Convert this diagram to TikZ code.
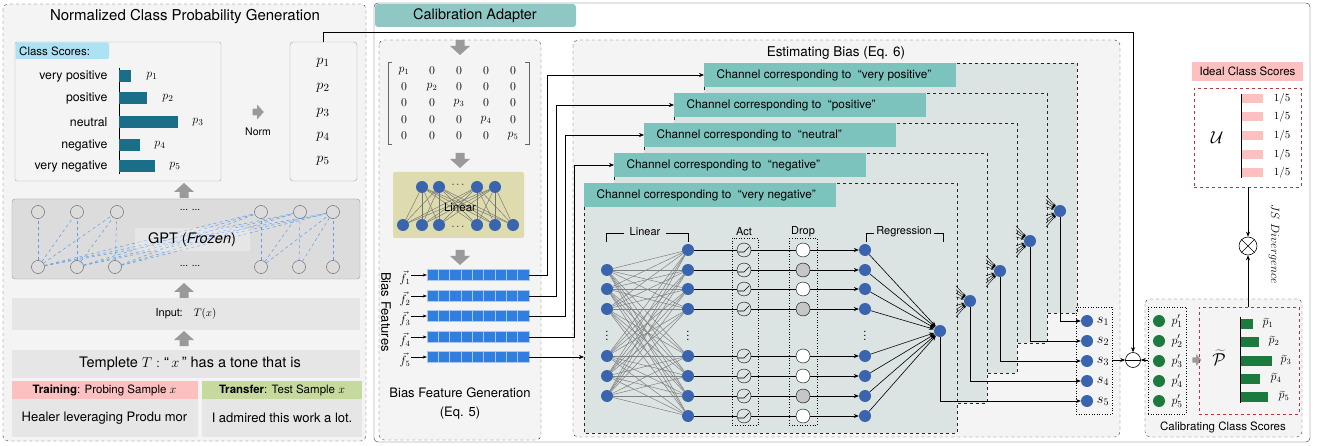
\documentclass[tikz,border=0pt]{standalone}
\usepackage{fontspec}
\setmainfont{TeX Gyre Heros}
\usetikzlibrary{arrows.meta,calc}
\definecolor{panelgray}{HTML}{F4F4F4}
\definecolor{boxgray}{HTML}{E6E6E6}
\definecolor{gptgray}{HTML}{DCDCDC}
\definecolor{arrgray}{HTML}{9A9A9A}
\definecolor{tealbar}{HTML}{1B6E88}
\definecolor{hdrblue}{HTML}{ADE2F3}
\definecolor{cateal}{HTML}{8EC7C3}
\definecolor{chhead}{HTML}{7CC3BD}
\definecolor{chfill}{HTML}{DCE4E3}
\definecolor{nblue}{HTML}{3B64AE}
\definecolor{cellblue}{HTML}{2F7EE0}
\definecolor{cellline}{HTML}{A8C8F0}
\definecolor{dgreen}{HTML}{1C7A3E}
\definecolor{pinkhd}{HTML}{FDC0C0}
\definecolor{reddash}{HTML}{C8303C}
\definecolor{greenhd}{HTML}{C6DA9E}
\definecolor{linbox}{HTML}{DEDCAE}
\definecolor{gptblue}{HTML}{5B9BF0}
\begin{document}
\begin{tikzpicture}[x=1pt,y=-1pt,
  font=\fontsize{11}{13}\selectfont,
  >={Stealth[length=5pt,width=4pt]},
  panel/.style={draw=black!75, dashed, rounded corners=5pt, fill=panelgray},
  bnode/.style={circle, fill=nblue, minimum size=12pt, inner sep=0pt},
  gnode/.style={circle, fill=dgreen, minimum size=12pt, inner sep=0pt},
  gptc/.style={circle, draw=black!65, fill=gptgray, minimum size=13pt, inner sep=0pt},
  gptl/.style={gptblue, dashed, line width=0.5pt},
  actc/.style={circle, draw=black, fill=chfill, minimum size=14pt, inner sep=0pt},
  dropc/.style={circle, draw=black, minimum size=14pt, inner sep=0pt},
  smallarr/.style={->, >={Stealth[length=3pt,width=2.5pt]}, line width=0.4pt},
  pics/garr/.style={code={\fill[arrgray] (-6,-4.5) -- (0,-4.5) -- (0,-10) -- (9,0) -- (0,10) -- (0,4.5) -- (-6,4.5) -- cycle;}},
]
\path[use as bounding box] (0,0) rectangle (1317,446);

% ================= LEFT PANEL =================
\draw[panel] (3,4) rectangle (366,441);
\node (ttl1) at (185,17) {\fontsize{15}{17}\selectfont Normalized Class Probability Generation};

\node (csbox) [draw=black!35, fill=panelgray, rounded corners=2pt, minimum width=206pt, minimum height=139pt, inner sep=0pt] at (118,111.5) {};
\fill[hdrblue, rounded corners=2pt] (15.5,42.5) rectangle (109,59);
\node[anchor=west, inner sep=1pt] (cshdr) at (18,51) {\fontsize{11.5}{13}\selectfont Class Scores:};
\draw[line width=1pt] (119,68) -- (119,174);
\foreach \lab/\y/\w/\px [count=\i] in {very positive/76/12/152, positive/98/28/168, neutral/122/59/198, negative/145/21/160, very negative/166/36/175}{
  \node[anchor=east, font=\fontsize{12.3}{14}\selectfont] (cl\i) at (111,\y) {\lab};
  \fill[tealbar] (119,\y-6) rectangle ++(\w,12);
  \node[font=\fontsize{13}{15}\selectfont] (cp\i) at (\px,\y) {$p_{\i}$};
}
\pic[scale=0.75] at (257,112) {garr};
\node (norm) at (258,132) {\fontsize{10.5}{12}\selectfont Norm};

\node (pbox) [draw=black!35, fill=panelgray, rounded corners=3pt, minimum width=67pt, minimum height=139pt, inner sep=0pt] at (323.5,111.5) {};
\foreach \y [count=\i] in {63,88,113,137,161}
  \node[font=\fontsize{15.5}{17}\selectfont] (pv\i) at (323,\y) {$p_{\i}$};

\pic[rotate=90] at (184,192) {garr};

% GPT
\node (gpt) [draw=black!40, fill=gptgray, rounded corners=3pt, minimum width=348pt, minimum height=80pt, inner sep=0pt] at (186,239) {};
\foreach \x [count=\i] in {38,77,117,261,300,333} \node[gptc] (t\i) at (\x,212) {};
\foreach \x [count=\i] in {38,77,115,261,299,333} \node[gptc] (b\i) at (\x,267) {};
\foreach \a/\b in {1/1,2/2,3/3,1/2,1/3,2/3,1/4,1/5,1/6,2/4,2/5,2/6,3/4,3/5,3/6,4/4,5/5,6/6,4/5,4/6,5/6}
  \draw[gptl] (b\a) -- (t\b);
\node (gptlbl) [fill=white, fill opacity=0.3, text opacity=1, minimum width=115pt, minimum height=23pt] at (192,240) {\fontsize{14.5}{16}\selectfont GPT (\textit{Frozen})};
\node (dt1) at (190,210) {\fontsize{10}{11}\selectfont ... ...};
\node (dt2) at (190,266) {\fontsize{10}{11}\selectfont ... ...};

\pic[rotate=90] at (184,292) {garr};
\node (inp) [fill=boxgray, minimum width=348pt, minimum height=32pt, inner sep=0pt] at (186,314) {Input:\quad $T(x)$};
\pic[rotate=90] at (184,340) {garr};
\node (tmpl) [fill=boxgray, minimum width=348pt, minimum height=28pt, inner sep=0pt] at (186,364) {\fontsize{14.5}{16}\selectfont\ \ Templete $T:$ ``\,$x$\,'' has a tone that is};
\node (trh) [fill=pinkhd, minimum width=186pt, minimum height=18pt, inner sep=0pt] at (104.5,390) {\fontsize{11.5}{13}\selectfont\textbf{Training}: Probing Sample $x$};
\node (tfh) [fill=greenhd, minimum width=160pt, minimum height=18pt, inner sep=0pt] at (282,390) {\fontsize{11.5}{13}\selectfont\textbf{Transfer}: Test Sample $x$};
\node (trt) [fill=boxgray, minimum width=186pt, minimum height=38pt, inner sep=0pt] at (104.5,418) {\fontsize{13}{15}\selectfont Healer leveraging Produ mor};
\node (tft) [fill=boxgray, minimum width=160pt, minimum height=38pt, inner sep=0pt] at (282,418) {\fontsize{13}{15}\selectfont I admired this work a lot.};

% ================= CALIBRATION ADAPTER =================
\draw[black!80, rounded corners=4pt] (374,3) rectangle (1310,442);
\fill[cateal, rounded corners=3pt] (375,4) rectangle (576,27);
\node (catitle) at (475,16) {\fontsize{14.5}{16}\selectfont Calibration Adapter};

% Bias feature generation
\draw[panel] (379,40) rectangle (541,440);
\pic[rotate=-90] at (460,46) {garr};
\foreach \r [count=\i] in {71,87,103,120,136}
  \foreach \c [count=\j] in {404,432,459,486,513}{
    \ifnum\i=\j \node[font=\fontsize{12}{14}\selectfont, inner sep=0pt] (m\i-\j) at (\c,\r) {$p_{\i}$};
    \else \node[font=\fontsize{12}{14}\selectfont, inner sep=0pt] (m\i-\j) at (\c,\r) {$0$};\fi
  }
\draw[black!60, line width=0.8pt] (392,62) -- (388,62) -- (388,144) -- (392,144);
\draw[black!60, line width=0.8pt] (525,62) -- (529,62) -- (529,144) -- (525,144);
\pic[rotate=-90] at (460,159) {garr};
\node (linbox) [fill=linbox, rounded corners=2pt, minimum width=131pt, minimum height=66pt, inner sep=0pt] at (458.5,205) {};
\foreach \x [count=\i] in {422,439,477,495} \node[bnode] (tn\i) at (\x,187) {};
\foreach \x [count=\i] in {403,422,439,477,495,513} \node[bnode] (bn\i) at (\x,225) {};
\foreach \i in {1,...,4} \foreach \j in {1,...,6} \draw[black!55, line width=0.45pt] (tn\i) -- (bn\j);
\node (lindots1) at (458,185) {$\cdots$};
\node (lindots2) at (458,227) {$\cdots$};
\node (linlbl) at (460,207) {\fontsize{11.5}{13}\selectfont Linear};
\pic[rotate=-90] at (460,256) {garr};

\foreach \y [count=\i] in {275,296,316,337,357}{
  \node (bar\i) [minimum width=102pt, minimum height=11pt, inner sep=0pt] at (478,\y) {};
  \foreach \c in {0,...,8} \fill[cellblue, draw=cellline, line width=0.5pt] ({427+\c*11.33},\y-5.5) rectangle ++(11.33,11);
  \node[font=\fontsize{12}{14}\selectfont, inner sep=1pt] (f\i) at (405,\y+3) {$\vec{f}_{\i}$};
  \draw[->, >={Stealth[length=4pt,width=3pt]}] (f\i.east |- bar\i.west) -- (bar\i.west);
}
\node[rotate=-90, font=\fontsize{13}{15}\selectfont] (bfl) at (386,312) {Bias Features};
\node (bfg1) at (460,393) {\fontsize{13}{15}\selectfont Bias Feature Generation};
\node (bfg2) at (460,413) {\fontsize{13}{15}\selectfont (Eq. 5)};

% Estimating bias
\draw[panel] (573,40) rectangle (1120,437);
\node (ebt) at (836,53) {\fontsize{13.5}{15}\selectfont Estimating Bias (Eq. 6)};

\foreach \k/\lab in {1/very positive, 2/positive, 3/neutral, 4/negative, 5/very negative}{
  \pgfmathsetmacro\L{584+30*(5-\k)}
  \pgfmathsetmacro\T{183-30*(5-\k)}
  \pgfmathsetmacro\R{957+30*(5-\k)}
  \pgfmathsetmacro\B{433-30*(5-\k)}
  \draw[dashed, draw=black!85, fill=chfill] (\L,\T) rectangle (\R,\B);
  \fill[chhead] (\L,\T) rectangle ++(252,24);
  \node[anchor=west, font=\fontsize{11.8}{13}\selectfont] (chl\k) at (\L+9,\T+12) {Channel corresponding to \ ``\lab''};
  \coordinate (chin\k) at (\L,\T+12);
}

% bar -> channel connectors
\foreach \k in {1,...,4}
  \draw[->, line width=0.6pt] (bar\k.east) -- ++({18+9*(\k-1)},0) |- (chin\k);
\coordinate (chin5b) at (584,357);
\draw[->, line width=0.6pt] (bar5.east) -- (chin5b);

% front channel network
\draw (606,242) -- (606,233) -- (624,233);
\node (linl) at (645,232) {Linear};
\draw (666,233) -- (688,233) -- (688,242);
\node (actl) at (744,232) {Act};
\node (dropl) at (803,232) {Drop};
\draw (866,242) -- (866,233) -- (874,233);
\node (regl) at (904,232) {Regression};
\draw (934,233) -- (943,233) -- (943,242);
\draw[dotted, line width=0.6pt] (732,238) rectangle (758,425);
\draw[dotted, line width=0.6pt] (789,238) rectangle (817,425);

\node[bnode] (out5) at (940,331) {};
\foreach \y [count=\i] in {270,289,309,356,376,396} \node[bnode] (in\i) at (607,\y) {};
\foreach \y/\df [count=\j] in {250/white,270/gray!45,289/white,309/gray!45,356/white,376/white,396/gray!45,416/white}{
  \node[bnode] (hd\j) at (688,\y) {};
  \node[actc] (act\j) at (744,\y) {};
  \node[dropc, fill=\df] (drp\j) at (803,\y) {};
  \node[bnode] (rg\j) at (865,\y) {};
}
\foreach \i in {1,...,6} \foreach \j in {1,...,8} \draw[black!50, line width=0.5pt] (in\i) -- (hd\j);
\foreach \j in {1,...,8}{
  \draw[line width=0.6pt] (hd\j) -- (act\j);
  \draw[line width=0.6pt] (act\j) -- (drp\j);
  \draw[->, line width=0.6pt] (drp\j) -- (rg\j);
  \draw[->, line width=0.6pt] (rg\j) -- (out5);
  \draw[line width=0.6pt] ([shift={(-6,2)}]act\j.center) -- ++(6,0) -- ++(5,-5);
}
\node (vd1) at (607,333) {$\vdots$};
\node (vd2) at (688,333) {$\vdots$};
\node (vd3) at (865,333) {$\vdots$};

% other channel outputs
\foreach \k in {1,...,4}{
  \pgfmathsetmacro\m{5-\k}
  \node[bnode] (out\k) at ({940+30*\m},{331-30*\m}) {};
  \foreach \ry [count=\q] in {250,270,289,309,356,376,396,416}{
    \coordinate (fan\k-\q) at ({940+30*\m-14},{331-30*\m+(\ry-331)*14/75});
    \draw[smallarr] (fan\k-\q) -- (out\k);
  }
}

% s nodes
\node (sbox) [draw, dotted, line width=0.6pt, minimum width=36pt, minimum height=107pt, inner sep=0pt] at (1094,360.5) {};
\foreach \k in {1,...,5}{
  \node[bnode] (s\k) at (1087,{321+20*(\k-1)}) {};
  \node[font=\fontsize{14}{16}\selectfont, inner sep=0pt] (sl\k) at (1103,{321+20*(\k-1)}) {$s_{\k}$};
  \draw[->, line width=0.6pt] (out\k) |- (s\k);
}

% minus circle
\node (mn) [circle, draw, line width=0.6pt, minimum size=15pt, inner sep=0pt] at (1133,360) {};
\draw[line width=0.6pt] (mn.west) -- (mn.east);
\draw[->, line width=0.6pt] (pbox.north) -- ++(0,-9) -| (mn.north);
\draw[->, line width=0.6pt] (sbox.east |- mn.west) -- (mn.west);

% calibrating class scores
\draw[panel] (1145,299) rectangle (1302,437);
\node (ccs) at (1223,427) {\fontsize{11.5}{13}\selectfont Calibrating Class Scores};
\node (ppbox) [draw, dotted, line width=0.6pt, minimum width=38pt, minimum height=107pt, inner sep=0pt] at (1167,360.5) {};
\foreach \k in {1,...,5}{
  \node[gnode] (pp\k) at (1159,{321+20*(\k-1)}) {};
  \node[font=\fontsize{13}{15}\selectfont, inner sep=0pt] (ppl\k) at (1177,{321+20*(\k-1)}) {$p'_{\k}$};
}
\draw[->, line width=0.6pt] (ppbox.west |- mn.east) -- (mn.east);
\pic[scale=0.6] at (1196,360) {garr};

\node (pbt) [draw=reddash, dashed, line width=0.8pt, minimum width=100pt, minimum height=107pt, inner sep=0pt] at (1249,360.5) {};
\node[inner sep=0pt] (ptl) at (1219,358) {\fontsize{19}{21}\selectfont $\widetilde{\mathcal{P}}$};
\foreach \y/\w/\lx [count=\i] in {324/13/1268, 342/19/1274, 361/32/1286, 379/20/1276, 397/28/1284}{
  \fill[dgreen] (1240,\y-5) rectangle ++(\w,10);
  \node[font=\fontsize{12}{13}\selectfont, inner sep=0pt] (ptd\i) at (\lx,\y-1) {$\widetilde{p}_{\i}$};
}
\draw[line width=1pt] (1240,317) -- (1240,403);

% ideal class scores
\node (idh) [fill=pinkhd, minimum width=111pt, minimum height=19pt, inner sep=0pt] at (1247.5,71.5) {\fontsize{11.5}{13}\selectfont Ideal Class Scores};
\node (ubox) [draw=reddash, dashed, line width=0.8pt, minimum width=107pt, minimum height=99pt, inner sep=0pt] at (1247.5,137.5) {};
\node (ul) at (1217,138) {\fontsize{19}{21}\selectfont $\mathcal{U}$};
\foreach \y [count=\i] in {99,117,136,155,173}{
  \fill[pinkhd] (1241,\y-4.5) rectangle ++(22,9);
  \node[inner sep=0pt] (uf\i) at (1282,\y) {$1/5$};
}
\draw[line width=1pt] (1241,94) -- (1241,178);

\node (otimes) [circle, draw, line width=0.6pt, minimum size=18pt, inner sep=0pt] at (1248,246) {};
\draw[line width=0.6pt] (otimes.north west) -- (otimes.south east);
\draw[line width=0.6pt] (otimes.north east) -- (otimes.south west);
\draw[->, line width=0.6pt] (ubox.south -| otimes.north) -- (otimes.north);
\draw[->, line width=0.6pt] (pbt.north -| otimes.south) -- (otimes.south);
\node[rotate=-90, font=\fontsize{13}{15}\selectfont] (jsd) at (1274,244) {$JS\ Divergence$};

\end{tikzpicture}
\end{document}
